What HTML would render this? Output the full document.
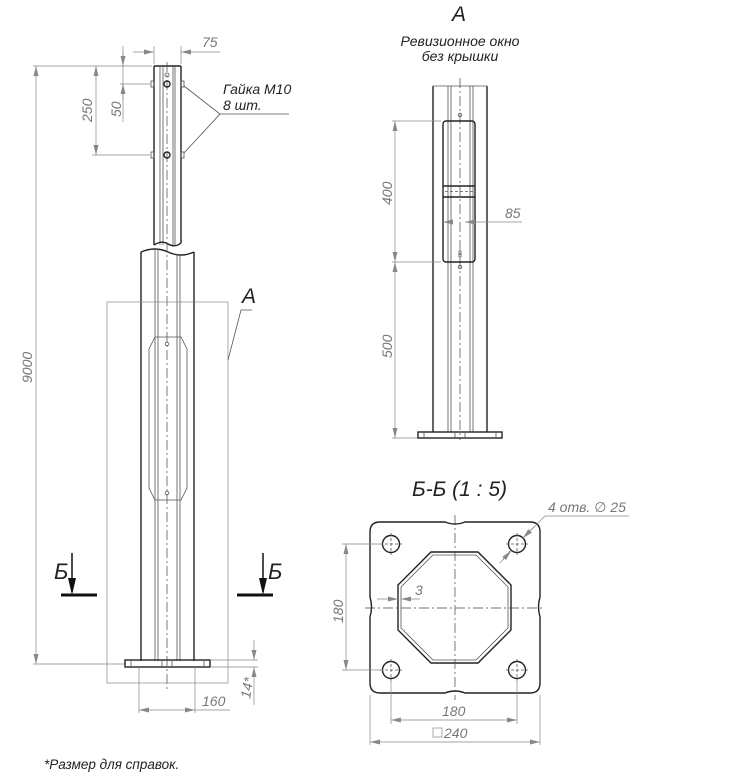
<!DOCTYPE html>
<html><head><meta charset="utf-8"><style>
html,body{margin:0;padding:0;background:#fff}
svg{display:block}
text{font-family:"Liberation Sans","DejaVu Sans",sans-serif;font-style:italic}
.k{stroke:#222;fill:none;stroke-width:1.4}
.t{stroke:#555;fill:none;stroke-width:0.8}
.d{stroke:#888;fill:none;stroke-width:0.7}
.c{stroke:#444;fill:none;stroke-width:0.7;stroke-dasharray:10 3 2 3}
.dt{fill:#777;font-size:14px}
.bt{fill:#222}
</style></head><body>
<svg width="745" height="783" viewBox="0 0 745 783" xmlns="http://www.w3.org/2000/svg">
<defs>
<marker id="a" viewBox="0 0 10 6" refX="10" refY="3" markerWidth="10" markerHeight="6" orient="auto-start-reverse" markerUnits="userSpaceOnUse"><path d="M0,0.5 L10,3 L0,5.5z" fill="#888"/></marker>
</defs>
<!-- LEFT VIEW -->
<path class="k" d="M154,66 V245 M181,66 V243"/>
<path class="k" d="M154,66 H181"/>
<path class="t" d="M160,66 V245 M163,66 V245 M173,66 V245 M175,66 V245"/>
<path class="k" d="M154,245 Q162,240 168,244 Q175,248 181,243"/>
<line class="c" x1="167" y1="62" x2="167" y2="690"/>
<circle cx="167" cy="75" r="2" class="t"/>
<circle cx="167" cy="84" r="3" class="k"/><circle cx="167" cy="155" r="3" class="k"/>
<rect x="151" y="81" width="3" height="6" class="t"/><rect x="181" y="81" width="3" height="6" class="t"/>
<rect x="151" y="152" width="3" height="6" class="t"/><rect x="181" y="152" width="3" height="6" class="t"/>
<path class="t" d="M184,86 L220,114 L184,153 M220,114 H289"/>
<text x="223" y="94" class="bt" font-size="14">Гайка М10</text>
<text x="223" y="110" class="bt" font-size="14">8 шт.</text>
<path class="d" d="M154,64 V46 M181,64 V46"/>
<line class="d" x1="133" y1="52" x2="154" y2="52" marker-end="url(#a)"/>
<line class="d" x1="220" y1="52" x2="181" y2="52" marker-end="url(#a)"/>
<text x="202" y="47" class="dt">75</text>
<path class="d" d="M33,66 H152 M92,155 H150 M120,84 H150"/>
<line class="d" x1="123" y1="46" x2="123" y2="84" />
<line class="d" x1="123" y1="50" x2="123" y2="66" marker-end="url(#a)"/>
<line class="d" x1="123" y1="100" x2="123" y2="84" marker-end="url(#a)"/>
<line class="d" x1="123" y1="84" x2="123" y2="122"/>
<text transform="translate(121,117) rotate(-90)" class="dt">50</text>
<line class="d" x1="96" y1="66" x2="96" y2="155" marker-start="url(#a)" marker-end="url(#a)"/>
<text transform="translate(92,122) rotate(-90)" class="dt">250</text>
<line class="d" x1="36" y1="66" x2="36" y2="664" marker-start="url(#a)" marker-end="url(#a)"/>
<text transform="translate(32,383) rotate(-90)" class="dt">9000</text>
<path class="d" d="M33,664 H125"/>
<path class="k" d="M141,252 V661 M194,252 V661"/>
<path class="k" d="M141,252 Q155,246 168,252 Q181,258 194,252"/>
<path class="t" d="M155,250 V661 M158,250 V661 M177,254 V661 M180,254 V661"/>
<path class="t" d="M155,337 H181 L187,349 V488 L181,500 H155 L149,488 V349 Z"/>
<circle cx="167" cy="344" r="1.8" class="t"/><circle cx="167" cy="493" r="1.8" class="t"/>
<rect x="107" y="302" width="121" height="381" class="d" stroke="#666"/>
<path class="t" d="M228,360 L241,310 H252"/>
<text x="242" y="303" class="bt" font-size="21">А</text>
<rect x="125" y="660" width="85" height="7" class="k" stroke-width="1"/>
<path class="t" d="M131,660 V667 M162,660 V667 M172,660 V667 M204,660 V667"/>
<text x="54" y="579" class="bt" font-size="22">Б</text>
<line x1="72" y1="553" x2="72" y2="592" stroke="#111" stroke-width="1.5"/><path d="M68,578 L72,595 L76,578z" fill="#111"/>
<line x1="61" y1="595" x2="97" y2="595" stroke="#111" stroke-width="3"/>
<text x="268" y="579" class="bt" font-size="22">Б</text>
<line x1="263" y1="553" x2="263" y2="592" stroke="#111" stroke-width="1.5"/><path d="M259,578 L263,595 L267,578z" fill="#111"/>
<line x1="237" y1="595" x2="273" y2="595" stroke="#111" stroke-width="3"/>
<path class="d" d="M139,667 V713 M195,667 V713"/>
<line class="d" x1="139" y1="710" x2="195" y2="710" marker-start="url(#a)" marker-end="url(#a)"/>
<line class="d" x1="195" y1="710" x2="230" y2="710"/>
<text x="202" y="706" class="dt">160</text>
<path class="d" d="M210,660 H258 M210,667 H258"/>
<line class="d" x1="254" y1="640" x2="254" y2="660" marker-end="url(#a)"/>
<line class="d" x1="254" y1="688" x2="254" y2="667" marker-end="url(#a)"/>
<line class="d" x1="254" y1="688" x2="254" y2="705"/>
<text transform="translate(250,699) rotate(-80)" class="dt">14*</text>
<text x="44" y="769" fill="#222" font-size="13.5">*Размер для справок.</text>

<!-- VIEW A -->
<text x="452" y="21" class="bt" font-size="21">А</text>
<text x="460" y="46" class="bt" font-size="14" text-anchor="middle">Ревизионное окно</text>
<text x="460" y="61" class="bt" font-size="14" text-anchor="middle">без крышки</text>
<path class="k" d="M433,86 V432 M487,86 V432"/>
<path class="t" d="M433,86 H487 M448,86 V432 M451,86 V432 M470,86 V432 M473,86 V432"/>
<line class="c" x1="460" y1="78" x2="460" y2="440"/>
<rect x="443" y="121" width="32" height="141" rx="3" class="k"/>
<path class="k" d="M443,186 H475 M443,197 H475" stroke-width="1.6"/>
<path class="t" d="M445,191.5 H473" stroke-dasharray="3 2" stroke-width="2"/>
<circle cx="460" cy="115" r="1.8" class="t"/><circle cx="460" cy="267" r="1.8" class="t"/>
<rect x="459" y="251" width="2" height="6" class="t"/>
<path class="d" d="M392,121 H441 M392,262 H441 M392,438 H418"/>
<line class="d" x1="395" y1="121" x2="395" y2="262" marker-start="url(#a)" marker-end="url(#a)"/>
<line class="d" x1="395" y1="262" x2="395" y2="438" marker-start="url(#a)" marker-end="url(#a)"/>
<text transform="translate(392,205) rotate(-90)" class="dt">400</text>
<text transform="translate(392,358) rotate(-90)" class="dt">500</text>
<line class="d" x1="443" y1="222" x2="453" y2="222" marker-start="url(#a)"/>
<line class="d" x1="465" y1="222" x2="522" y2="222" marker-start="url(#a)"/>
<text x="505" y="218" class="dt">85</text>
<rect x="418" y="432" width="84" height="6" class="k" stroke-width="1"/>
<path class="t" d="M424,432 V438 M455,432 V438 M465,432 V438 M496,432 V438"/>

<!-- SECTION B-B -->
<text x="412" y="496" class="bt" font-size="21">Б-Б (1 : 5)</text>
<path class="k" stroke-width="1" d="M380,522 H445 Q455,526 465,522 H530 Q540,522 540,532 V597 Q537,607 540,617 V683 Q540,693 530,693 H465 Q455,689 445,693 H380 Q370,693 370,683 V617 Q373,607 370,597 V532 Q370,522 380,522 Z"/>
<g class="k" stroke-width="1">
<circle cx="391" cy="544" r="8.5"/><circle cx="517" cy="544" r="8.5"/>
<circle cx="391" cy="670" r="8.5"/><circle cx="517" cy="670" r="8.5"/>
</g>
<g class="t" stroke-dasharray="3 2">
<path d="M380,544 H402 M391,533 V555 M506,544 H528 M517,533 V555 M380,670 H402 M391,659 V681 M506,670 H528 M517,659 V681"/>
</g>
<path class="k" stroke-width="1.8" d="M431,552 H478 L511,585 V630 L478,663 H431 L398,630 V585 Z"/>
<path class="t" d="M433,555 H476 L508,587 V628 L476,660 H433 L401,628 V587 Z"/>
<line class="c" x1="455" y1="515" x2="455" y2="700"/>
<line class="c" x1="365" y1="608" x2="545" y2="608"/>
<path class="d" d="M342,544 H383 M342,670 H383 M391,680 V724 M517,680 V724 M370,695 V745 M540,695 V745"/>
<line class="d" x1="346" y1="544" x2="346" y2="670" marker-start="url(#a)" marker-end="url(#a)"/>
<text transform="translate(343,623) rotate(-90)" class="dt">180</text>
<line class="d" x1="391" y1="720" x2="517" y2="720" marker-start="url(#a)" marker-end="url(#a)"/>
<text x="442" y="716" class="dt">180</text>
<line class="d" x1="370" y1="742" x2="540" y2="742" marker-start="url(#a)" marker-end="url(#a)"/>
<rect x="433" y="728" width="9" height="9" class="d"/>
<text x="444" y="738" class="dt">240</text>
<line class="d" x1="377" y1="599" x2="398" y2="599" marker-end="url(#a)"/>
<line class="d" x1="420" y1="599" x2="401" y2="599" marker-end="url(#a)"/>
<text x="415" y="595" class="dt">3</text>
<path class="d" d="M629,516 H545 L523,538"/>
<line class="d" x1="510" y1="551" x2="503" y2="559"/>
<line class="d" x1="534" y1="527" x2="523" y2="538" marker-end="url(#a)"/>
<line class="d" x1="500" y1="563" x2="511" y2="551" marker-end="url(#a)"/>
<text x="548" y="512" class="dt">4 отв. ∅ 25</text>
</svg>
</body></html>
